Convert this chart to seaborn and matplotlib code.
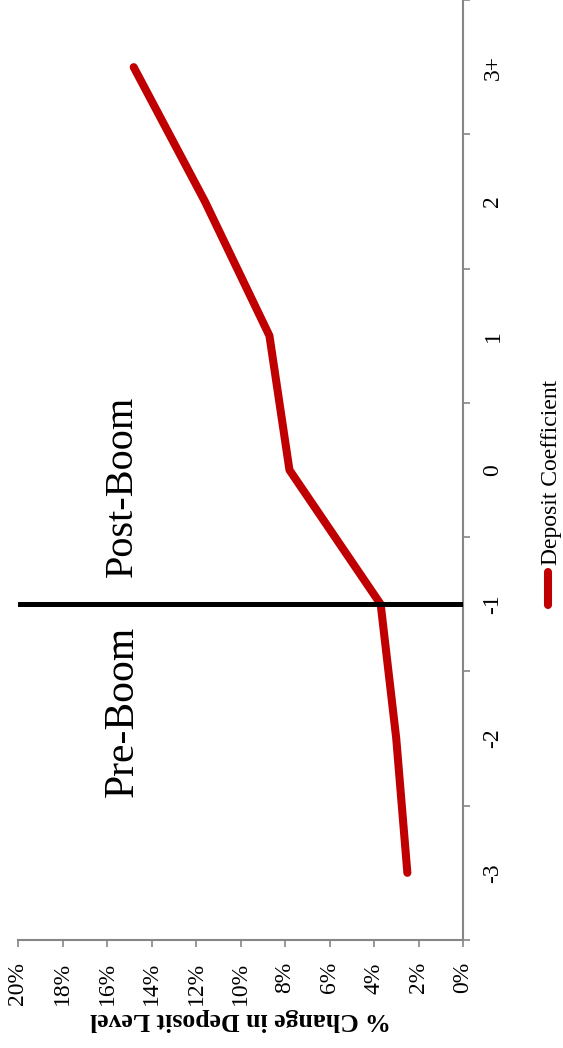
import matplotlib
matplotlib.use("Agg")
import matplotlib.pyplot as plt
import seaborn as sns
from matplotlib.lines import Line2D

# --- Dane ---
event_time = [-3, -2, -1, 0, 1, 2, 3]
event_labels = ["-3", "-2", "-1", "0", "1", "2", "3+"]
deposit_pct = [2.5, 3.0, 3.7, 7.8, 8.7, 11.6, 14.8]
boom_event = -1
pct_ticks = list(range(0, 21, 2))

# --- Styl ---
sns.set_theme(style="white")
plt.rcParams["font.family"] = ["Liberation Serif", "DejaVu Serif"]
plt.rcParams["text.color"] = "black"
plt.rcParams["axes.labelcolor"] = "black"
plt.rcParams["xtick.labelcolor"] = "black"
plt.rcParams["ytick.labelcolor"] = "black"
gray = "#868686"

fig = plt.figure(figsize=(5.63, 10.48), dpi=100)
ax = fig.add_axes([18 / 563, 108 / 1048, 445 / 563, 940 / 1048])

sns.lineplot(x=deposit_pct, y=event_time, orient="y", sort=False, estimator=None,
             color="#C00000", linewidth=5.8, solid_capstyle="round", ax=ax)
ax.axhline(boom_event, color="black", linewidth=3.6, zorder=3)

ax.set_xlim(20, 0)
ax.set_ylim(-3.5, 3.5)

# os procentowa (dol)
ax.set_xticks(pct_ticks)
ax.set_xticklabels([f"{t}%" for t in pct_ticks], rotation=90, fontsize=17)
ax.tick_params(axis="x", length=5, width=1.2, color=gray, pad=11, direction="out", bottom=True)
ax.set_xlabel("% Change in Deposit Level", rotation=180, fontsize=18.5,
              fontweight="bold", labelpad=2)

# os zdarzen (prawa)
ax.yaxis.tick_right()
ax.set_yticks(event_time)
ax.set_yticklabels(event_labels, rotation=90, fontsize=17, va="center")
ax.set_yticks([t + 0.5 for t in [-4] + event_time], minor=True)
ax.tick_params(axis="y", which="major", length=0, pad=14)
ax.tick_params(axis="y", which="minor", length=5, width=1.2, color=gray, right=True, left=False)
ax.set_ylabel("")

for side in ["top", "left"]:
    ax.spines[side].set_visible(False)
for side in ["bottom", "right"]:
    ax.spines[side].set_color(gray)
    ax.spines[side].set_linewidth(1.5)

ax.text(15.3, -1.8, "Pre-Boom", rotation=90, fontsize=30, ha="center", va="center")
ax.text(15.3, -0.12, "Post-Boom", rotation=90, fontsize=29, ha="center", va="center")

# legenda
fig.add_artist(Line2D([548 / 563, 548 / 563], [1 - 605 / 1048, 1 - 572 / 1048],
                      color="#C00000", linewidth=5.8, solid_capstyle="round"))
fig.text(551 / 563, 1 - 565 / 1048, "Deposit Coefficient", rotation=90,
         fontsize=17, ha="center", va="bottom")

fig.savefig("out.png", dpi=100)
